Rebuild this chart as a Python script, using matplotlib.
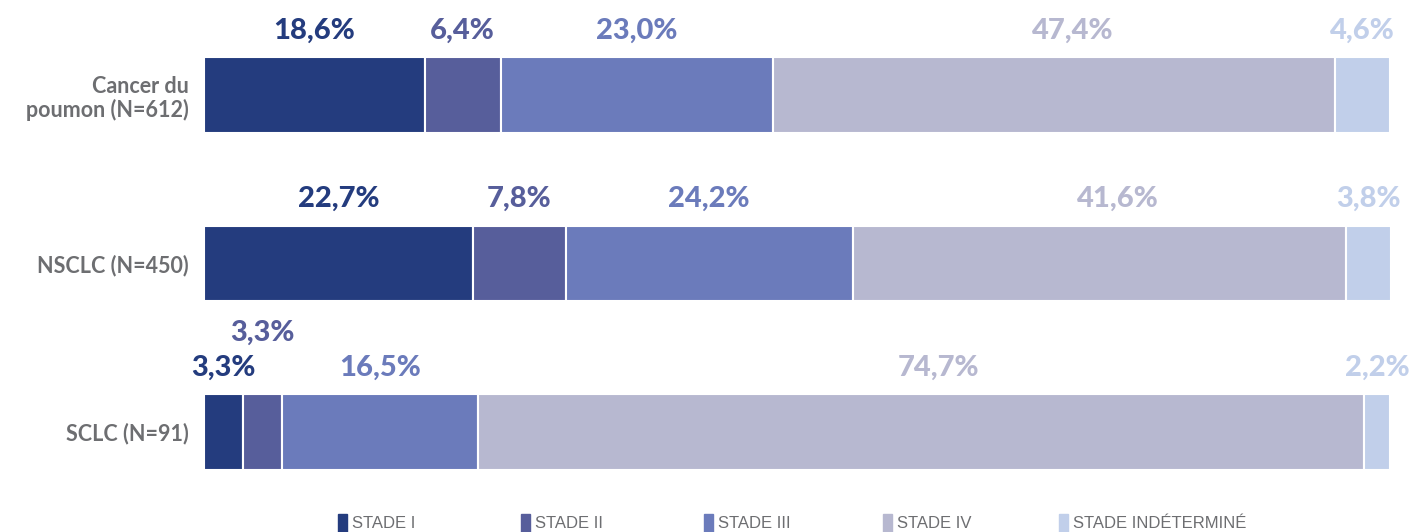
import matplotlib.pyplot as plt
from matplotlib.patches import Rectangle

# data
groups = ['Cancer du\npoumon (N=612)', 'NSCLC (N=450)', 'SCLC (N=91)']
stages = ['STADE I', 'STADE II', 'STADE III', 'STADE IV', 'STADE INDÉTERMINÉ']
stade_1 = [18.6, 22.7, 3.3]
stade_2 = [6.4, 7.8, 3.3]
stade_3 = [23.0, 24.2, 16.5]
stade_4 = [47.4, 41.6, 74.7]
stade_ind = [4.6, 3.8, 2.2]

colors = ['#243c7e', '#575e9b', '#6b7bbb', '#b7b8d0', '#c1cfea']
series = [stade_1, stade_2, stade_3, stade_4, stade_ind]

W, H = 1409, 532
fig = plt.figure(figsize=(W / 100, H / 100), dpi=100)
ax = fig.add_axes([204 / W, 16 / H, 1186 / W, 505 / H])

label_font = ['Lato', 'DejaVu Sans']
lefts = [0.0] * len(groups)
for k, (vals, c) in enumerate(zip(series, colors)):
    ax.barh(range(len(groups)), vals, left=lefts, height=0.45, color=c,
            edgecolor='white', linewidth=1.5)
    for i, v in enumerate(vals):
        cx = lefts[i] + v / 2
        dy = 19
        dx = 0
        if k == 3:
            dx = 13  # stage IV labels sit a bit right of center
        if k == 1 and v < 5:
            dy = 44  # small segment: lift the label above its neighbour
        ax.annotate(f'{v:.1f}%'.replace('.', ','), (cx, i - 0.225),
                    xytext=(dx, dy), textcoords='offset points',
                    ha='center', va='center', fontsize=21, fontweight='black',
                    color=c, family=label_font)
    lefts = [l + v for l, v in zip(lefts, vals)]

ax.set_xlim(0, 100)
ax.set_ylim(2.5, -0.5)
ax.set_yticks(range(len(groups)))
ax.set_yticklabels(groups, fontsize=15.5, fontweight='bold', color='#6d6e71',
                   family=label_font, linespacing=1.1)
ax.tick_params(axis='y', length=0, pad=11)
ax.set_xticks([])
for s in ax.spines.values():
    s.set_visible(False)

# legend along the bottom edge
leg_x = [338, 521, 704, 883, 1059]
for x, lab, c in zip(leg_x, stages, colors):
    fig.patches.append(Rectangle((x / W, 0), 9 / W, 18 / H, transform=fig.transFigure,
                                 color=c, figure=fig))
    fig.text((x + 14) / W, 1 - 516 / H, lab, ha='left', va='top', fontsize=12,
             color='#6d6e71', family=['Liberation Sans Narrow', 'Liberation Sans'])

fig.savefig('out.png', dpi=100)
